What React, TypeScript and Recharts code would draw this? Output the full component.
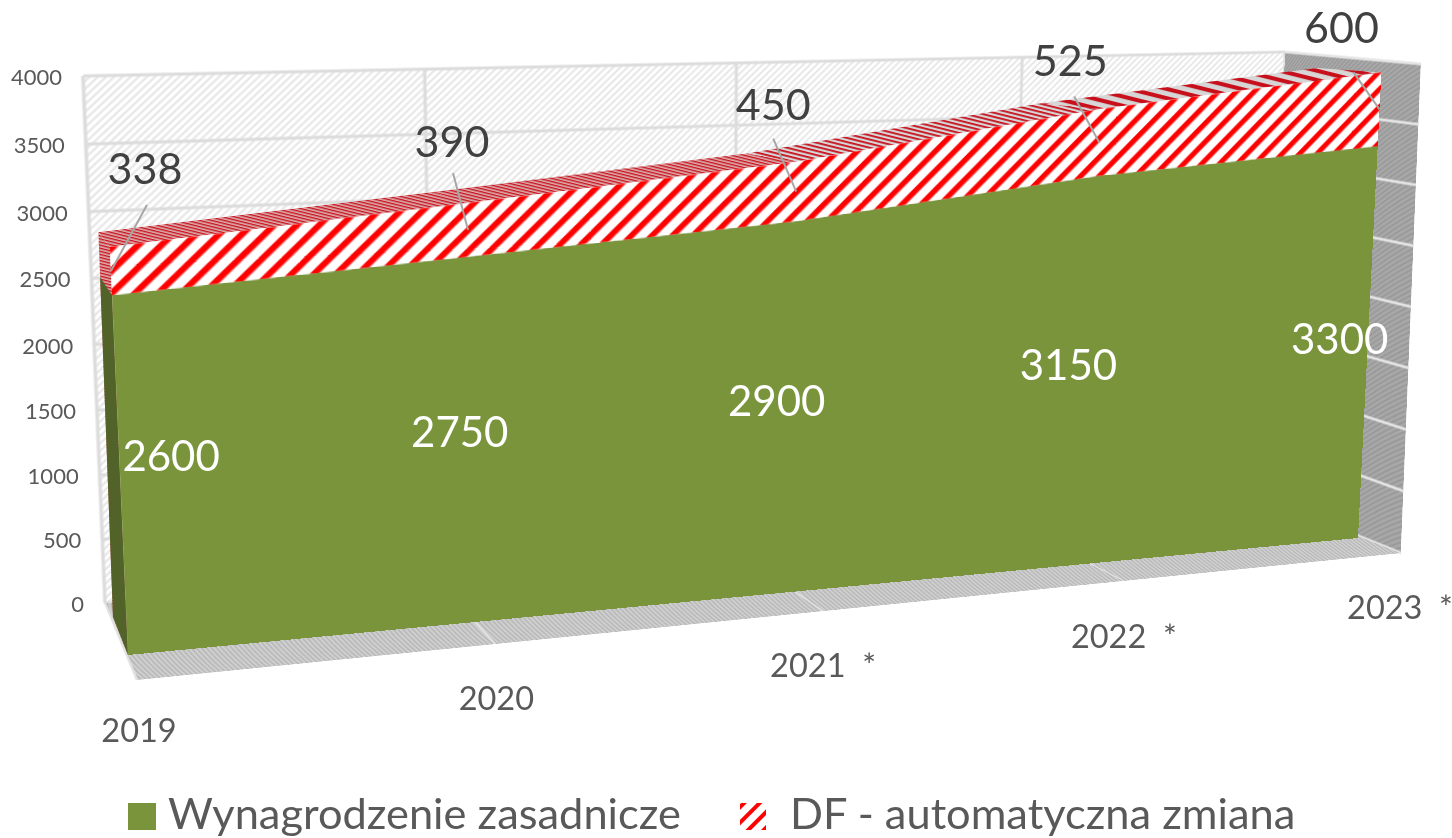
import React from 'react';
import { AreaChart, Area, ComposedChart, Line, XAxis, YAxis, CartesianGrid, Legend } from 'recharts';

// ---------- data ----------
const categories = ['2019', '2020', '2021  *', '2022  *', '2023  *'];
const salary = [2600, 2750, 2900, 3150, 3300];
const dfChange = [338, 390, 450, 525, 600];
const valueTicks = [0, 500, 1000, 1500, 2000, 2500, 3000, 3500, 4000];
const seriesNames = ['Wynagrodzenie zasadnicze', 'DF - automatyczna zmiana'];

const table = categories.map((c, i) => ({
  category: c,
  salary: salary[i],
  df: dfChange[i],
  total: salary[i] + dfChange[i],
  salaryMid: salary[i] / 2,
  dfMid: salary[i] + dfChange[i] / 2,
  edge: 0,
}));
const depthTable = [{ category: 'back', level: 0 }, { category: 'front', level: 4000 }];

// ---------- layout ----------
const PW = 1452, PH = 838, W = 1200, H = 520, MX = 100, MY = 100;
const margin = { left: MX, top: MY, right: PW - MX - W, bottom: PH - MY - H };
const FONT = 'Lato, Carlito, sans-serif';

type P = [number, number];
// corner order: top-left, top-right, bottom-right, bottom-left of the plot rectangle
const makeH = (q: P[]) => {
  const [[x0, y0], [x1, y1], [x2, y2], [x3, y3]] = q;
  const dx1 = x1 - x2, dx2 = x3 - x2, sx = x0 - x1 + x2 - x3;
  const dy1 = y1 - y2, dy2 = y3 - y2, sy = y0 - y1 + y2 - y3;
  const den = dx1 * dy2 - dx2 * dy1;
  const g = (sx * dy2 - dx2 * sy) / den, h = (dx1 * sy - sx * dy1) / den;
  return {
    a: x1 - x0 + g * x1, b: x3 - x0 + h * x3, c: x0,
    d: y1 - y0 + g * y1, e: y3 - y0 + h * y3, f: y0, g, h,
  };
};
type Hm = ReturnType<typeof makeH>;
const css = (m: Hm) =>
  `matrix3d(${[m.a / W, m.d / W, 0, m.g / W, m.b / H, m.e / H, 0, m.h / H, 0, 0, 1, 0, m.c, m.f, 0, 1].join(',')})`;
const project = (m: Hm, px: number, py: number): P => {
  const u = (px - MX) / W, v = (py - MY) / H;
  const w = m.g * u + m.h * v + 1;
  return [(m.a * u + m.b * v + m.c) / w, (m.d * u + m.e * v + m.f) / w];
};

const H_BACKWALL = makeH([[83, 76], [1285, 52], [1265, 498], [105, 603]]);
const H_RIGHTWALL = makeH([[1285, 52], [1421, 64], [1401, 553], [1265, 498]]);
const H_FLOOR = makeH([[105, 603], [1265, 498], [1401, 553], [137, 680]]);
const H_FRONT = makeH([[103, 93], [1382, 60], [1358, 538], [128, 655]]);
const H_REAR = makeH([[93, 89], [1318, 56], [1305, 520], [113, 617]]);

// label offsets from the projected anchor point
const salaryLabelOffset: P[] = [[51, -22], [-12, -10], [-18, -8], [-24, -8], [-28, -6]];
const dfLabelOffset: P[] = [[34, -102], [-16, -88], [-23, -87], [-29, -82], [-38, -81]];
const dfLeaderOffset: P[] = [[36, -66], [-15, -57], [-23, -53], [-25, -46], [-26, -37]];
const xLabelDrop = [62, 66, 66, 67, 66];
const xLabelShift = [2, 1, 0, 0, -1];
const topStripe = [3, 3, 4, 9];

const poly = (pts: P[]) => pts.map((p) => p.join(',')).join(' ');

const Stripes = ({ id, size, bar, bg, fg, angle }: any) => (
  <pattern id={id} patternUnits="userSpaceOnUse" width={size} height={size} patternTransform={`rotate(${angle})`}>
    <rect width={size} height={size} fill={bg} />
    <rect width={bar} height={size} fill={fg} />
  </pattern>
);

// ---------- planes: real Recharts grids warped on to the walls ----------
const Warp = ({ m, children }: any) => (
  <div style={{ position: 'absolute', left: -MX, top: -MY, width: PW, height: PH, transformOrigin: `${MX}px ${MY}px`, transform: css(m) }}>
    {children}
  </div>
);

const noTick = () => <g />;
const gridAxisProps = { mirror: true, axisLine: false, tickLine: false, tick: noTick, interval: 0 } as const;
const ghostProps = { fill: 'none', stroke: 'none', isAnimationActive: false, legendType: 'none' } as const;

const BackWall = () => (
  <Warp m={H_BACKWALL}>
    <AreaChart width={PW} height={PH} margin={margin} data={table}>
      <defs><Stripes id="wallHatch" size={5} bar={2} bg="#ffffff" fg="#e6e6e6" angle={45} /></defs>
      <XAxis dataKey="category" {...gridAxisProps} />
      <YAxis type="number" domain={[0, 4000]} ticks={valueTicks} {...gridAxisProps} />
      <CartesianGrid fill="url(#wallHatch)" stroke="#dcdcdc" strokeWidth={3} />
      <Area dataKey="total" {...ghostProps} />
    </AreaChart>
  </Warp>
);

const RightWall = () => (
  <Warp m={H_RIGHTWALL}>
    <AreaChart width={PW} height={PH} margin={margin} data={depthTable}>
      <defs><Stripes id="sideHatch" size={5} bar={2} bg="#a8a8a8" fg="#989898" angle={45} /></defs>
      <XAxis dataKey="category" {...gridAxisProps} />
      <YAxis type="number" domain={[0, 4000]} ticks={valueTicks} {...gridAxisProps} />
      <CartesianGrid fill="url(#sideHatch)" stroke="#e4e4e4" strokeWidth={3} />
      <Area dataKey="level" {...ghostProps} />
    </AreaChart>
  </Warp>
);

const Floor = () => (
  <Warp m={H_FLOOR}>
    <AreaChart width={PW} height={PH} margin={margin} data={table}>
      <defs><Stripes id="floorHatch" size={5} bar={2} bg="#cfcfcf" fg="#b6b6b6" angle={45} /></defs>
      <XAxis dataKey="category" {...gridAxisProps} />
      <YAxis type="number" domain={[0, 1]} ticks={[0, 1]} {...gridAxisProps} />
      <CartesianGrid fill="url(#floorHatch)" stroke="#e2e2e2" strokeWidth={2} />
      <Area dataKey="edge" {...ghostProps} />
    </AreaChart>
  </Warp>
);

// ---------- extruded faces, driven by the same scales ----------
const TotalFace = (props: any) => {
  const { cx, cy, index, points } = props;
  const frontA = project(H_FRONT, cx, cy);
  const rearA = project(H_REAR, cx, cy);
  const els: any[] = [];
  if (index === 0) {
    const base = cy + (H * props.value) / 4000;
    els.push(
      <polygon key="side" points={poly([frontA, rearA, project(H_REAR, cx, base), project(H_FRONT, cx, base)])} fill="url(#topHatch0)" />,
    );
  }
  const next = points && points[index + 1];
  if (next) {
    const frontB = project(H_FRONT, next.x, next.y);
    const rearB = project(H_REAR, next.x, next.y);
    els.push(<polygon key="top" points={poly([frontA, frontB, rearB, rearA])} fill={`url(#topHatch${index})`} />);
  }
  return <g key={`t${index}`}>{els}</g>;
};

const SalaryFace = (props: any) => {
  const { cx, cy, index } = props;
  if (index !== 0) return <g key={`s${index}`} />;
  const base = cy + (H * props.value) / 4000;
  return (
    <polygon
      key="s0"
      points={poly([project(H_FRONT, cx, cy), project(H_REAR, cx, cy), project(H_REAR, cx, base), project(H_FRONT, cx, base)])}
      fill="#526329"
    />
  );
};

const Faces = () => (
  <div style={{ position: 'absolute', left: 0, top: 0 }}>
    <ComposedChart width={PW} height={PH} margin={margin} data={table}>
      <defs>
        {topStripe.map((s, i) => (
          <pattern key={i} id={`topHatch${i}`} patternUnits="userSpaceOnUse" width={24} height={s} patternTransform="rotate(14)">
            <rect width={24} height={s} fill={i < 2 ? '#dcb0b0' : '#d6d6d6'} />
            <rect width={24} height={s / 2.2} fill="#c8101c" />
          </pattern>
        ))}
      </defs>
      <XAxis dataKey="category" hide />
      <YAxis hide domain={[0, 4000]} />
      <Line dataKey="total" stroke="none" dot={TotalFace} isAnimationActive={false} />
      <Line dataKey="salary" stroke="none" dot={SalaryFace} isAnimationActive={false} />
    </ComposedChart>
  </div>
);

// ---------- front face: the stacked areas ----------
const Front = () => (
  <Warp m={H_FRONT}>
    <AreaChart width={PW} height={PH} margin={margin} data={table}>
      <defs><Stripes id="redHatch" size={14} bar={5.6} bg="#ffffff" fg="#ff0000" angle={45} /></defs>
      <XAxis dataKey="category" hide />
      <YAxis hide domain={[0, 4000]} />
      <Area dataKey="salary" name={seriesNames[0]} stackId="a" type="linear" fill="#7a943c" fillOpacity={1} stroke="none" isAnimationActive={false} />
      <Area dataKey="df" name={seriesNames[1]} stackId="a" type="linear" fill="url(#redHatch)" fillOpacity={1} stroke="none" isAnimationActive={false} />
    </AreaChart>
  </Warp>
);

// ---------- texts ----------
const YTick = ({ y, payload }: any) => {
  const [px, py] = project(H_BACKWALL, MX, y);
  return (
    <text x={px - 21} y={py + 9} textAnchor="end" fontFamily={FONT} fontSize={22} fill="#595959">{payload.value}</text>
  );
};
const XTick = ({ x, payload, index }: any) => {
  const [px, py] = project(H_FLOOR, x, MY + H);
  return (
    <text x={px + xLabelShift[index]} y={py + xLabelDrop[index]} textAnchor="middle" fontFamily={FONT} fontSize={32.5} fill="#595959" style={{ whiteSpace: 'pre' }}>{payload.value}</text>
  );
};
const SalaryLabel = ({ cx, cy, index, payload }: any) => {
  const [px, py] = project(H_FRONT, cx, cy);
  const [ox, oy] = salaryLabelOffset[index];
  return (
    <text key={`sl${index}`} x={px + ox} y={py + oy + 15} textAnchor="middle" fontFamily={FONT} fontSize={42} fill="#ffffff">{payload.salary}</text>
  );
};
const DfLabel = ({ cx, cy, index, payload }: any) => {
  const [px, py] = project(H_FRONT, cx, cy);
  const [ox, oy] = dfLabelOffset[index];
  const [lx, ly] = dfLeaderOffset[index];
  return (
    <g key={`dl${index}`}>
      <line x1={px + lx} y1={py + ly} x2={px} y2={py} stroke="#a6a6a6" strokeWidth={2} />
      <text x={px + ox} y={py + oy + 15} textAnchor="middle" fontFamily={FONT} fontSize={43} fill="#404040">{payload.df}</text>
    </g>
  );
};

const Texts = () => (
  <div style={{ position: 'absolute', left: 0, top: 0 }}>
    <ComposedChart width={PW} height={PH} margin={margin} data={table}>
      <XAxis dataKey="category" mirror interval={0} axisLine={false} tickLine={false} tick={XTick} />
      <YAxis mirror type="number" domain={[0, 4000]} ticks={valueTicks} axisLine={false} tickLine={false} tick={YTick} />
      <Line dataKey="salaryMid" stroke="none" dot={SalaryLabel} isAnimationActive={false} />
      <Line dataKey="dfMid" stroke="none" dot={DfLabel} isAnimationActive={false} />
    </ComposedChart>
  </div>
);

const LegendBody = () => (
  <div style={{ position: 'relative', width: PW, height: 54, fontFamily: FONT, fontSize: 43.4, color: '#595959' }}>
    <svg width={PW} height={54} style={{ position: 'absolute', left: 0, top: 0 }}>
      <defs><Stripes id="legendHatch" size={11} bar={4} bg="#ffffff" fg="#ff0000" angle={45} /></defs>
      <rect x={128} y={21} width={28} height={27} fill="#7a943c" />
      <rect x={740} y={21} width={26} height={27} fill="url(#legendHatch)" />
    </svg>
    <span style={{ position: 'absolute', left: 168, top: 8, whiteSpace: 'pre', lineHeight: '44px' }}>{seriesNames[0]}</span>
    <span style={{ position: 'absolute', left: 790, top: 8, whiteSpace: 'pre', lineHeight: '44px' }}>{seriesNames[1]}</span>
  </div>
);

const LegendLayer = () => (
  <div style={{ position: 'absolute', left: 0, top: 782 }}>
    <AreaChart width={PW} height={56} margin={{ left: 0, right: 0, top: 0, bottom: 0 }} data={table}>
      <Legend content={LegendBody} wrapperStyle={{ left: 0, top: 0, width: PW, height: 54 }} />
    </AreaChart>
  </div>
);

export default function App() {
  return (
    <div style={{ position: 'absolute', left: 0, top: 0, width: PW, height: PH, overflow: 'hidden', background: '#fff' }}>
      <BackWall />
      <RightWall />
      <Floor />
      <Faces />
      <Front />
      <Texts />
      <LegendLayer />
    </div>
  );
}
